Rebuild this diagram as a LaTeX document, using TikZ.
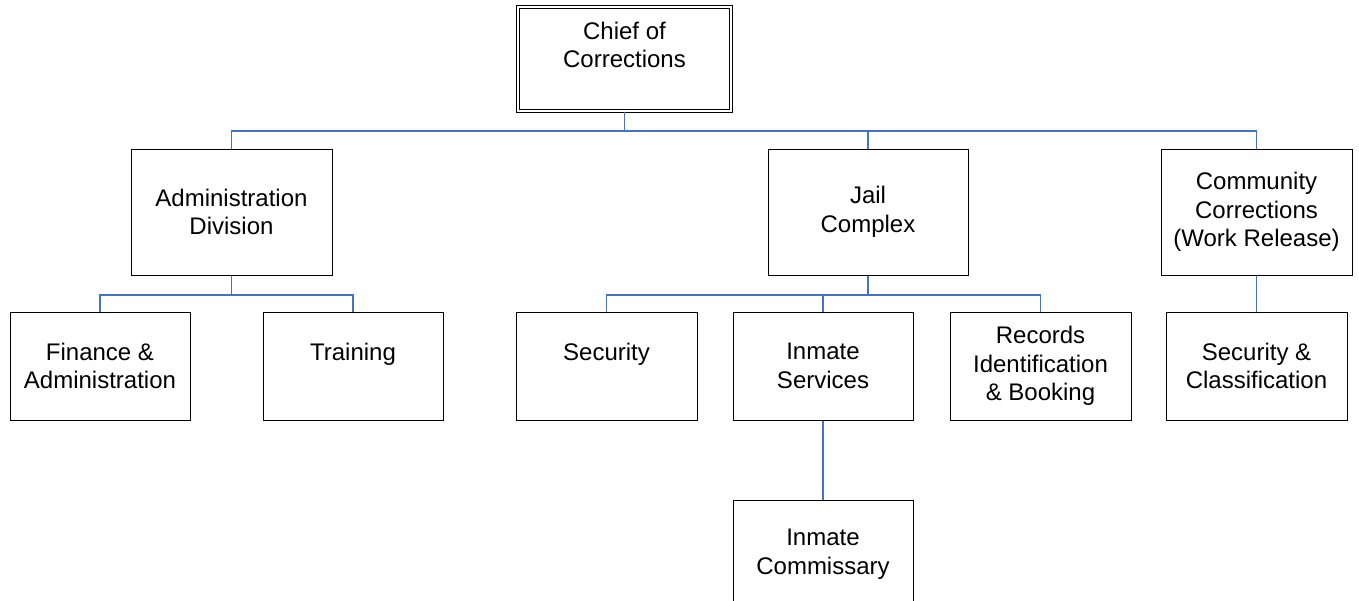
\documentclass[tikz,border=0pt]{standalone}
\usepackage{fontspec}
\setmainfont{Liberation Sans}
\usetikzlibrary{positioning}
\definecolor{linkblue}{HTML}{4472C4}

\tikzset{
  unit/.style={draw=black, line width=0.75pt, align=center, inner sep=0pt,
    font=\fontsize{18}{21.4}\selectfont},
  link/.style={draw=linkblue, line width=1pt}
}

\begin{document}
\begin{tikzpicture}[x=0.75pt, y=-0.75pt]
\useasboundingbox (0,0) rectangle (1359,600);

\node[unit, double, double distance=1.6pt, minimum width=160pt, minimum height=78pt] (chief) at (624.5,59) {Chief of\\Corrections\\\mbox{}};

\node[unit, minimum width=150.75pt, minimum height=94.5pt] (admin) at (231.5,212) {Administration\\Division};
\node[unit, minimum width=150pt, minimum height=94.5pt] (jail) at (868,212) {Jail\\Complex};
\node[unit, minimum width=143.25pt, minimum height=94.5pt] (community) at (1256.5,212) {Community\\Corrections\\(Work Release)};

\node[unit, minimum width=135pt, minimum height=81pt] (finance) at (100,366) {Finance \&\\Administration};
\node[unit, minimum width=135pt, minimum height=81pt] (training) at (353,366) {Training\\\mbox{}};
\node[unit, minimum width=135.75pt, minimum height=81pt] (security) at (606.5,366) {Security\\\mbox{}};
\node[unit, minimum width=135pt, minimum height=81pt] (services) at (823,366) {Inmate\\Services};
\node[unit, minimum width=135.75pt, minimum height=81pt] (records) at (1040.5,366) {Records\\Identification\\\& Booking};
\node[unit, minimum width=135.75pt, minimum height=81pt] (secclass) at (1256.5,366) {Security \&\\Classification};

\node[unit, minimum width=135pt, minimum height=81pt] (commissary) at (823,554) {Inmate\\Commissary};

\coordinate (bus top) at (624.5,131);
\coordinate (bus admin) at (231.5,295);
\coordinate (bus jail) at (868,295);

\draw[link] (chief.south) -- (bus top);
\draw[link] (admin.north) |- (bus top) -| (community.north);
\draw[link] (jail.north) -- (jail.north |- bus top);

\draw[link] (admin.south) -- (bus admin);
\draw[link] (finance.north) |- (bus admin) -| (training.north);

\draw[link] (jail.south) -- (bus jail);
\draw[link] (security.north) |- (bus jail) -| (records.north);
\draw[link] (services.north) -- (services.north |- bus jail);

\draw[link] (community.south) -- (secclass.north);
\draw[link] (services.south) -- (commissary.north);
\end{tikzpicture}
\end{document}
